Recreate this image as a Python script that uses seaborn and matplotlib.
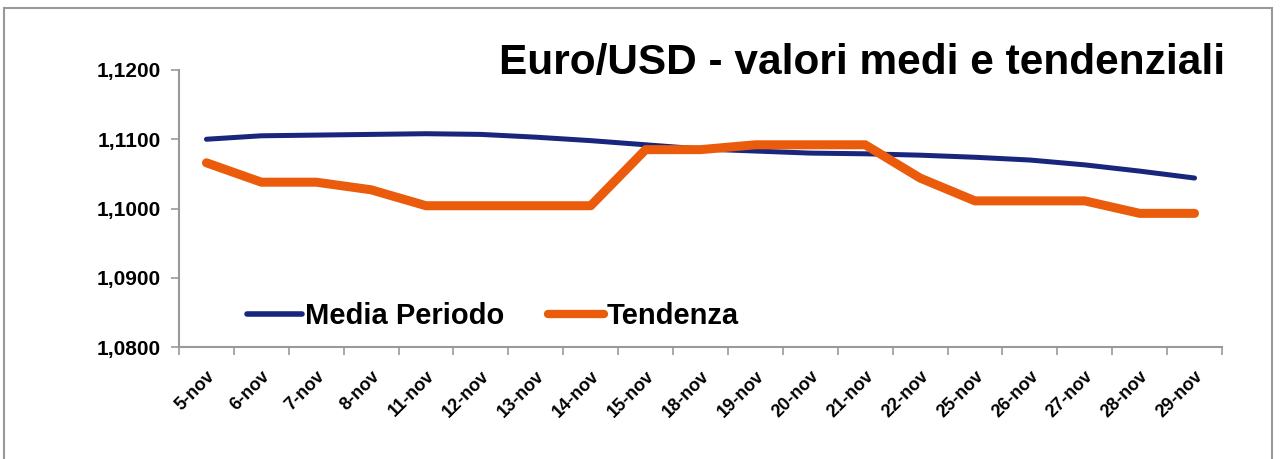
import numpy as np
import pandas as pd
import matplotlib.pyplot as plt
import seaborn as sns
from matplotlib.patches import Rectangle
from matplotlib.ticker import FuncFormatter, MultipleLocator, FixedLocator

# Data
days = ['5-nov', '6-nov', '7-nov', '8-nov', '11-nov', '12-nov', '13-nov', '14-nov',
        '15-nov', '18-nov', '19-nov', '20-nov', '21-nov', '22-nov', '25-nov',
        '26-nov', '27-nov', '28-nov', '29-nov']
media_periodo = [1.1100, 1.1105, 1.1106, 1.1107, 1.1108, 1.1107, 1.1103, 1.1098,
                 1.1092, 1.1086, 1.1083, 1.1080, 1.1079, 1.1077, 1.1074,
                 1.1070, 1.1063, 1.1054, 1.1044]
tendenza = [1.1066, 1.1038, 1.1038, 1.1027, 1.1004, 1.1004, 1.1004, 1.1004,
            1.1085, 1.1085, 1.1092, 1.1092, 1.1092, 1.1044, 1.1011,
            1.1011, 1.1011, 1.0993, 1.0993]

df = pd.DataFrame({'pos': np.arange(len(days)), 'giorno': days,
                   'Media Periodo': media_periodo, 'Tendenza': tendenza})

sns.set_style('white')
plt.rcParams['font.family'] = ['Liberation Sans', 'DejaVu Sans']
plt.rcParams['text.color'] = 'black'
plt.rcParams['xtick.color'] = 'black'
plt.rcParams['ytick.color'] = 'black'

fig = plt.figure(figsize=(12.82, 4.59), dpi=100)
ax = fig.add_axes([179 / 1282, 1 - 347 / 459, (1222 - 179) / 1282, (347 - 70) / 459])

sns.lineplot(data=df, x='pos', y='Media Periodo', ax=ax, color='#18267d',
             linewidth=3.6, label='Media Periodo', solid_capstyle='round')
sns.lineplot(data=df, x='pos', y='Tendenza', ax=ax, color='#ea5b0c',
             linewidth=6.5, label='Tendenza', solid_capstyle='round')

ax.set_xlim(-0.5, len(days) - 0.5)
ax.set_ylim(1.08, 1.12)
ax.yaxis.set_major_locator(MultipleLocator(0.01))
ax.yaxis.set_major_formatter(FuncFormatter(lambda v, p: f'{v:.4f}'.replace('.', ',')))

ax.set_xticks(df['pos'])
ax.set_xticklabels(days, rotation=45, ha='right', rotation_mode='anchor',
                   fontsize=13, fontweight='bold')
ax.xaxis.set_minor_locator(FixedLocator(np.arange(-0.5, len(days), 1.0)))
ax.tick_params(axis='x', which='major', length=0, pad=15)
ax.tick_params(axis='x', which='minor', length=6, color='#999999', width=1.2,
               direction='out', bottom=True)
ax.tick_params(axis='y', which='major', length=6, color='#999999', width=1.2,
               direction='out', left=True, labelsize=15, pad=7)
for lbl in ax.get_yticklabels():
    lbl.set_fontweight('bold')

ax.set_xlabel('')
ax.set_ylabel('')
for side in ['top', 'right']:
    ax.spines[side].set_visible(False)
for side in ['left', 'bottom']:
    ax.spines[side].set_color('#999999')
    ax.spines[side].set_linewidth(1.5)

ax.text(1.003, 0.985, 'Euro/USD - valori medi e tendenziali', transform=ax.transAxes,
        ha='right', va='baseline', fontsize=30.5, fontweight='bold')

leg = ax.legend(loc='center left', bbox_to_anchor=(0.051, 0.112), ncol=2, frameon=False,
                prop={'size': 21, 'weight': 'bold'}, handlelength=1.9, borderpad=0,
                handletextpad=0.1, columnspacing=1.5)
leg.get_lines()[0].set_linewidth(4)
leg.get_lines()[1].set_linewidth(6)

# outer frame of the chart area
fig.patches.append(Rectangle((4 / 1282, -0.01), 1268 / 1282, 1 - 8 / 459 + 0.01,
                             transform=fig.transFigure, fill=False,
                             edgecolor='#999999', linewidth=1.5))

fig.savefig('out.png', dpi=100)
